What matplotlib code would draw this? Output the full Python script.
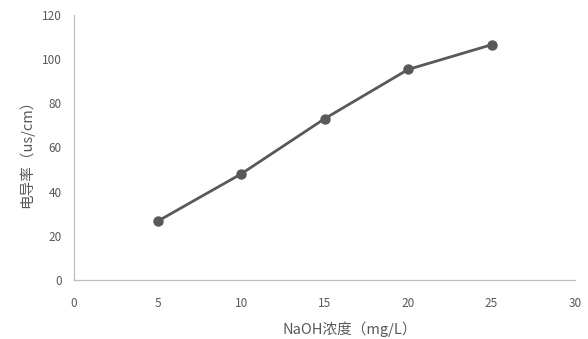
import matplotlib
matplotlib.use('Agg')
import matplotlib.pyplot as plt

plt.rcParams['font.family'] = ['Noto Sans CJK SC', 'DejaVu Sans']

# 数据
naoh = [5, 10, 15, 20, 25]
conductivity = [26.6, 48.0, 73.0, 95.3, 106.5]
x_ticks = [0, 5, 10, 15, 20, 25, 30]
y_ticks = [0, 20, 40, 60, 80, 100, 120]

fig = plt.figure(figsize=(5.88, 3.39), dpi=100)
ax = fig.add_axes([0.126, 0.174, 0.852, 0.782])

ax.plot(naoh, conductivity, color='#595959', linewidth=2,
        marker='o', markersize=6.5, markerfacecolor='#595959', markeredgecolor='#595959')

ax.set_xlim(0, 30)
ax.set_ylim(0, 120)
ax.set_xticks(x_ticks)
ax.set_yticks(y_ticks)

for s in ['top', 'right']:
    ax.spines[s].set_visible(False)
for s in ['left', 'bottom']:
    ax.spines[s].set_color('#bfbfbf')
    ax.spines[s].set_linewidth(0.9)

ax.tick_params(axis='both', length=0, labelsize=8.5, labelcolor='#595959')
ax.tick_params(axis='x', pad=12)
ax.tick_params(axis='y', pad=9)

ax.set_xlabel('NaOH浓度（mg/L）', fontsize=10.5, color='#595959')
ax.set_ylabel('电导率（us/cm）', fontsize=10.5, color='#595959')
# 标题位置稍微偏右，和原图一致
ax.xaxis.set_label_coords(0.55, -0.155)
ax.yaxis.set_label_coords(-0.08, 0.49)

fig.savefig('out.png', dpi=100)
